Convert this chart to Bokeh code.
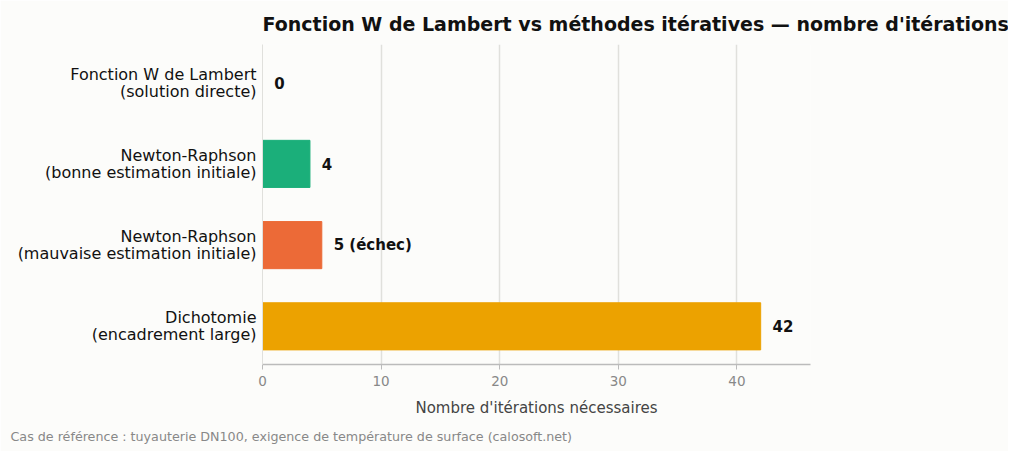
from bokeh.plotting import figure
from bokeh.models import ColumnDataSource, FixedTicker, Title, Range1d
from bokeh.core.properties import value
from bokeh.embed import file_html
from bokeh.resources import INLINE

# data (bottom to top)
methods = [
    "Dichotomie\n(encadrement large)",
    "Newton-Raphson\n(mauvaise estimation initiale)",
    "Newton-Raphson\n(bonne estimation initiale)",
    "Fonction W de Lambert\n(solution directe)",
]
iterations = [42, 5, 4, 0]
value_labels = ["42", "5 (échec)", "4", "0"]
colors = ["#eca200", "#ec6a37", "#1baf7a", "#1baf7a"]

pos = list(range(len(methods)))

source = ColumnDataSource(data=dict(
    y=pos,
    right=iterations,
    color=colors,
    label_x=[v + 1 for v in iterations],
    label=value_labels,
))

bg = "#fcfcfa"
font = "DejaVu Sans"

p = figure(
    width=1008, height=451,
    x_range=Range1d(0, 46.2), y_range=Range1d(-0.47, 3.47),
    output_backend="svg", toolbar_location=None,
    min_border_left=262, min_border_right=198,
    min_border_top=0, min_border_bottom=0,
    background_fill_color=bg, border_fill_color=bg,
)
p.outline_line_color = None

p.hbar(y="y", left=0, right="right", height=0.58, color="color", source=source)
p.text(x="label_x", y="y", text="label", source=source,
       text_align="left", text_baseline="middle",
       text_font=value(font), text_font_size="15px", text_font_style="bold",
       text_color="#111111")

# title
p.title.text = "Fonction W de Lambert vs méthodes itératives — nombre d'itérations"
p.title.align = "left"
p.title.text_font = font
p.title.text_font_size = "19px"
p.title.text_font_style = "bold"
p.title.text_color = "#111111"
p.title.offset = 0
p.title.standoff = 20

# footer
p.add_layout(Title(text="Cas de référence : tuyauterie DN100, exigence de température de surface (calosoft.net)",
                   text_font=font, text_font_size="12.7px", text_font_style="normal",
                   text_color="#888888", align="left", offset=-252, standoff=15), "below")

# x axis
p.xaxis.ticker = FixedTicker(ticks=[0, 10, 20, 30, 40])
p.xaxis.axis_label = "Nombre d'itérations nécessaires"
p.xaxis.axis_label_text_font = font
p.xaxis.axis_label_text_font_style = "normal"
p.xaxis.axis_label_text_font_size = "15px"
p.xaxis.axis_label_text_color = "#444444"
p.xaxis.axis_label_standoff = 10
p.xaxis.major_label_text_font = font
p.xaxis.major_label_text_font_size = "13.5px"
p.xaxis.major_label_text_color = "#888888"
p.xaxis.major_label_standoff = 6
p.xaxis.axis_line_color = "#bbbbbb"
p.xaxis.axis_line_width = 1.3
p.xaxis.major_tick_line_color = "#bbbbbb"
p.xaxis.major_tick_in = 0
p.xaxis.major_tick_out = 5
p.xaxis.minor_tick_line_color = None

# y axis with category labels
p.yaxis.ticker = FixedTicker(ticks=pos)
p.yaxis.major_label_overrides = {i: m for i, m in zip(pos, methods)}
p.yaxis.major_label_text_font = font
p.yaxis.major_label_text_font_size = "16px"
p.yaxis.major_label_text_color = "#111111"
p.yaxis.major_label_text_align = "right"
p.yaxis.major_label_text_line_height = 0.9
p.yaxis.axis_line_color = "#e0e0dc"
p.yaxis.major_tick_line_color = None
p.yaxis.major_tick_in = 0
p.yaxis.major_tick_out = 0
p.yaxis.minor_tick_line_color = None
p.yaxis.major_label_standoff = 6

p.xgrid.grid_line_color = "#e0e0dc"
p.xgrid.grid_line_width = 1.5
p.ygrid.grid_line_color = None

open("out.html", "w").write(file_html(p, INLINE))
